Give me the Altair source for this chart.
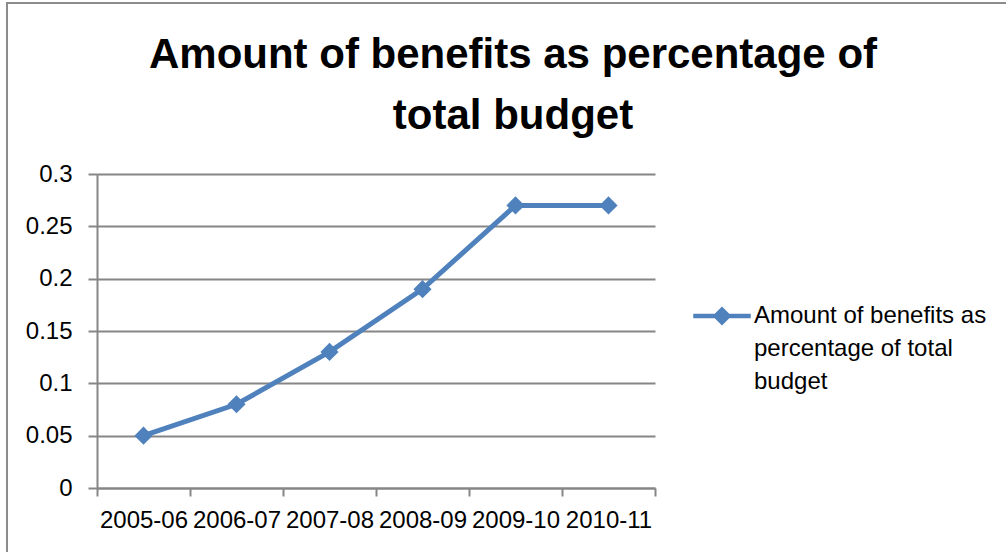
import altair as alt
import pandas as pd

years = ["2005-06", "2006-07", "2007-08", "2008-09", "2009-10", "2010-11"]
values = [0.05, 0.08, 0.13, 0.19, 0.27, 0.27]
series_name = "Amount of benefits as percentage of total budget"
legend_lines = ["Amount of benefits as", "percentage of total", "budget"]
y_ticks = [0, 0.05, 0.1, 0.15, 0.2, 0.25, 0.3]
title_lines = ["Amount of benefits as percentage of", "total budget"]

BLUE = "#4F81BD"
GRAY = "#868686"
FONT = "Liberation Sans"

df = pd.DataFrame({"year": years, "value": values, "series": [series_name] * len(years)})
legend_df = pd.DataFrame({"label": ["\n".join(legend_lines)]})

legend_symbol = "M-1,-0.08 H1 V0.08 H-1 Z M0,-0.33 L0.33,0 L0,0.33 L-0.33,0 Z"

line = alt.Chart(df).mark_line(
    strokeWidth=5,
    point=alt.OverlayMarkDef(shape="diamond", size=330, filled=True, opacity=1),
).encode(
    x=alt.X("year:N", sort=years, title=None,
            scale=alt.Scale(paddingInner=0, paddingOuter=0),
            axis=alt.Axis(tickBand="extent", labelAngle=0, tickSize=8,
                          labelPadding=12, grid=False)),
    y=alt.Y("value:Q", title=None,
            scale=alt.Scale(domain=[0, 0.3], nice=False),
            axis=alt.Axis(values=y_ticks, format="~g", tickSize=9,
                          labelPadding=16, grid=True)),
    color=alt.Color("series:N", title=None,
                    scale=alt.Scale(range=[BLUE]),
                    legend=alt.Legend(orient="none", legendX=596, legendY=113,
                                      symbolType=legend_symbol, symbolSize=3300,
                                      symbolFillColor=BLUE, symbolStrokeColor=BLUE,
                                      symbolStrokeWidth=0, symbolOpacity=1,
                                      labelExpr="''", padding=0)),
)

legend_text = alt.Chart(legend_df).mark_text(
    align="left", baseline="middle", font=FONT, fontSize=24, color="black",
    lineBreak="\n", lineHeight=33,
).encode(
    text="label:N",
    x=alt.value(657),
    y=alt.value(142),
)

border = alt.Chart(legend_df).mark_rect(
    fill=None, stroke="#8C8C8C", strokeWidth=2,
).encode(
    x=alt.value(-90), x2=alt.value(960),
    y=alt.value(-171), y2=alt.value(420),
)

chart = alt.layer(border, line, legend_text).properties(
    width=558, height=314,
    background="white",
    title=alt.TitleParams(title_lines, font=FONT, fontSize=42, fontWeight="bold",
                          color="black", anchor="middle", frame="group", dx=137,
                          offset=-136, lineHeight=61),
    padding={"left": 97, "top": 174, "right": 351, "bottom": 64},
    autosize=alt.AutoSizeParams(type="none"),
).configure_view(stroke=None).configure_axis(
    domainColor=GRAY, tickColor=GRAY, gridColor=GRAY, domainWidth=2, tickWidth=2,
    gridWidth=2, labelFont=FONT, labelFontSize=24, labelColor="black",
    gridOpacity=1, domainOpacity=1, tickOpacity=1,
)

chart.save("out.html", embed_options={"renderer": "svg", "actions": False})
